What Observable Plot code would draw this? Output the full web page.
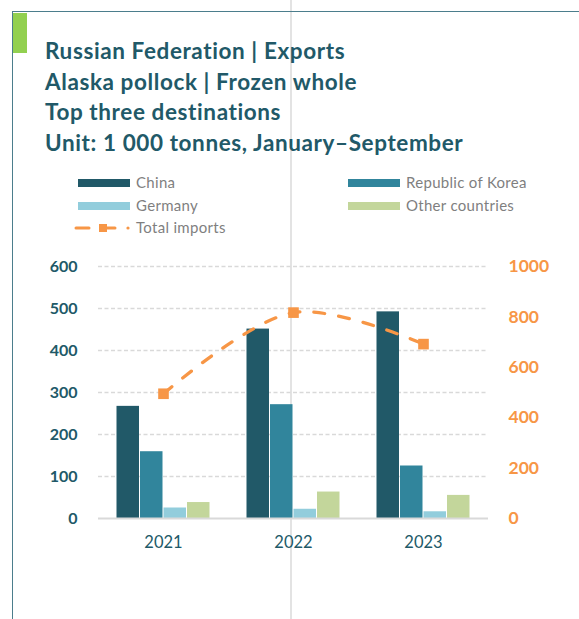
<!DOCTYPE html>
<html>
<head>
<meta charset="utf-8">
<script src="https://cdn.jsdelivr.net/npm/d3@7"></script>
<script src="https://cdn.jsdelivr.net/npm/@observablehq/plot@0.6"></script>
<style>
html, body { margin: 0; padding: 0; background: #fff; }
body { width: 579px; height: 619px; position: relative; overflow: hidden; font-family: Lato, "Open Sans", sans-serif; }
#frame { position: absolute; left: 12px; top: 11px; width: 600px; height: 700px; border-left: 1.5px solid #4b7d8c; border-top: 1.5px solid #4b7d8c; }
#green { position: absolute; left: 13px; top: 13px; width: 14px; height: 40px; background: #92d050; }
#divider { position: absolute; left: 290px; top: 0; width: 2px; height: 619px; background: #e3e3e3; }
#title { position: absolute; left: 45px; top: 36px; color: #215968; font-weight: 700; font-size: 22.5px; letter-spacing: 0.6px; line-height: 30.5px; white-space: nowrap; }
.leg { position: absolute; height: 18px; line-height: 18px; font-size: 15px; letter-spacing: 0.3px; color: #7f7f7f; white-space: nowrap; }
.sw { position: absolute; height: 8px; width: 52px; }
#chart { position: absolute; left: 0; top: 250px; }
</style>
</head>
<body>
<div id="divider"></div>
<div id="frame"></div>
<div id="green"></div>
<div id="title"></div>
<div id="legend"></div>
<div id="chart"></div>
<script>
// ---- data ----
const titleLines = [
  "Russian Federation | Exports",
  "Alaska pollock | Frozen whole",
  "Top three destinations",
  "Unit: 1 000 tonnes, January\u2013September"
];
const years = ["2021", "2022", "2023"];
const seriesNames = ["China", "Republic of Korea", "Germany", "Other countries"];
const china = [267, 451, 492];
const korea = [159, 271, 125];
const germany = [25, 22, 16];
const otherCountries = [38, 63, 55];
const totalImports = [495, 817, 692];
const lineName = "Total imports";
const leftTicks = [0, 100, 200, 300, 400, 500, 600];
const rightTicks = [0, 200, 400, 600, 800, 1000];
const seriesColors = ["#215968", "#31859c", "#92cddc", "#c3d69b"];
const lineColor = "#f79646";

// ---- title ----
document.getElementById("title").innerHTML = titleLines.map(t => `<div>${t}</div>`).join("");

// ---- legend ----
const legend = document.getElementById("legend");
const rowsY = [183, 206, 228];
const colX = [78, 348];
seriesNames.forEach((name, i) => {
  const col = i % 2, row = Math.floor(i / 2);
  const sw = document.createElement("div");
  sw.className = "sw";
  sw.style.left = colX[col] + "px";
  sw.style.top = (rowsY[row] - 4) + "px";
  sw.style.background = seriesColors[i];
  legend.appendChild(sw);
  const tx = document.createElement("div");
  tx.className = "leg";
  tx.style.left = (colX[col] + 58) + "px";
  tx.style.top = (rowsY[row] - 10) + "px";
  tx.textContent = name;
  legend.appendChild(tx);
});
{
  const ns = "http://www.w3.org/2000/svg";
  const s = document.createElementNS(ns, "svg");
  s.setAttribute("width", 58); s.setAttribute("height", 12);
  s.style.position = "absolute"; s.style.left = "74px"; s.style.top = (rowsY[2] - 6) + "px";
  s.innerHTML = `<line x1="2" y1="6" x2="15" y2="6" stroke="${lineColor}" stroke-width="3" stroke-linecap="round"/>
    <rect x="25" y="2" width="8" height="8" fill="${lineColor}"/>
    <line x1="33" y1="6" x2="41" y2="6" stroke="${lineColor}" stroke-width="3" stroke-linecap="round"/>
    <circle cx="54" cy="6" r="1.6" fill="${lineColor}"/>`;
  legend.appendChild(s);
  const tx = document.createElement("div");
  tx.className = "leg";
  tx.style.left = "136px";
  tx.style.top = (rowsY[2] - 10) + "px";
  tx.textContent = lineName;
  legend.appendChild(tx);
}

// ---- chart ----
const W = 579, H = 310, mL = 98, mR = 91, mT = 16, mB = 42;
const ratio = 600 / 1000;
const seriesValues = [china, korea, germany, otherCountries];
const bw = (W - mL - mR) / years.length;
const barW = 23.5;
const groupW = barW * seriesNames.length;

const barMarks = seriesValues.map((vals, i) => {
  const left = (bw - groupW) / 2 + i * barW;
  const data = years.map((y, j) => ({year: y, value: vals[j]}));
  return Plot.barY(data, {
    x: "year", y: "value", fill: seriesColors[i],
    insetLeft: left + 0.5, insetRight: bw - left - barW + 0.5
  });
});
const totals = years.map((y, j) => ({year: y, total: totalImports[j]}));

const chart = Plot.plot({
  width: W, height: H,
  marginLeft: mL, marginRight: mR, marginTop: mT, marginBottom: mB,
  style: {background: "transparent", fontFamily: "Lato, 'Open Sans', sans-serif", overflow: "visible"},
  x: {domain: years, padding: 0},
  y: {domain: [0, 600]},
  marks: [
    Plot.ruleY(leftTicks.filter(t => t > 0), {stroke: "#d9d9d9", strokeWidth: 1.3, strokeDasharray: "4,2.5"}),
    ...barMarks,
    Plot.ruleY([0], {stroke: "#d9d9d9", strokeWidth: 2}),
    Plot.line(totals, {x: "year", y: d => d.total * ratio, curve: "catmull-rom", stroke: lineColor, strokeWidth: 3.25, strokeDasharray: "11,14", strokeLinecap: "round"}),
    Plot.dot(totals, {x: "year", y: d => d.total * ratio, symbol: "square", r: 6, fill: lineColor}),
    Plot.axisY(leftTicks, {anchor: "left", tickSize: 0, tickPadding: 21, fontSize: 16, fontWeight: "bold", color: "#215968", label: null}),
    Plot.axisY(rightTicks.map(v => v * ratio), {anchor: "right", tickSize: 0, tickPadding: 20, tickFormat: d => String(Math.round(d / ratio)), fontSize: 17.5, fontWeight: "bold", color: lineColor, label: null}),
    Plot.axisX({tickSize: 0, tickPadding: 18, fontSize: 16.5, color: "#215968", label: null})
  ]
});
document.getElementById("chart").appendChild(chart);
</script>
</body>
</html>
